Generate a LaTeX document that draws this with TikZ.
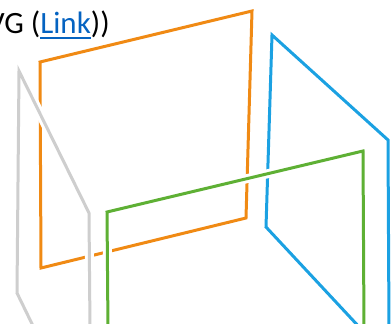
\documentclass[tikz,border=0pt]{standalone}
\usepackage{fontspec}
\setmainfont{Carlito}
\definecolor{orangeline}{RGB}{240,138,20}
\definecolor{blueline}{RGB}{27,161,226}
\definecolor{greenline}{RGB}{94,176,52}
\definecolor{greyline}{RGB}{206,206,206}
\definecolor{linkblue}{RGB}{5,99,193}
% hyperlink look: word with a rule some way under its baseline
\newsavebox\linkbox
\newcommand\linkword[1]{\sbox\linkbox{#1}%
  \rlap{\rule[-6pt]{\wd\linkbox}{1.6pt}}\usebox\linkbox}

\begin{document}
\begin{tikzpicture}[x=1pt,y=-1pt,line join=miter,
    face/.style={line width=3pt},
    halo/.style={draw=white,line width=9pt}]
  \useasboundingbox (0,0) rectangle (391,324);
  \clip (0,0) rectangle (391,324);
  % caption line, cut off by the left edge
  \node[anchor=base west,inner sep=0pt,font=\fontsize{31}{36}\selectfont]
    (caption) at (-13,33) {VG ({\color{linkblue}\linkword{Link}}))};

  % back plane first, the others cut gaps into it
  \draw[face,draw=orangeline] (40,62) -- (252,11) -- (246,218) -- (41,268) -- cycle;
  \draw[face,draw=blueline] (362,330) -- (266,227) -- (272,35) -- (388,140) -- (389,330);

  % grey and green lie on top, with a white rim
  \draw[halo] (35,330) -- (17,293) -- (19,71) -- (89,213) -- (90,330);
  \draw[face,draw=greyline] (35,330) -- (17,293) -- (19,71) -- (89,213) -- (90,330);
  \draw[halo] (108,330) -- (107,212) -- (363,151) -- (364,330);
  \draw[face,draw=greenline] (108,330) -- (107,212) -- (363,151) -- (364,330);
\end{tikzpicture}
\end{document}
